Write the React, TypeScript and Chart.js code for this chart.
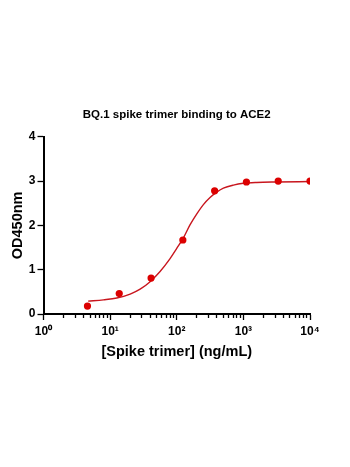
import React, { useEffect, useRef } from "react";
import { Chart, registerables } from "chart.js";

Chart.register(...registerables);

// Measured data points (3-fold dilution series)
const concentrations = [4.57, 13.7, 41.2, 123.5, 370.4, 1111, 3333, 10000];
const od450 = [0.18, 0.46, 0.81, 1.67, 2.78, 2.98, 3.0, 3.0];

// Fitted curve
const fitX = [4.68, 7.94, 12.6, 20.0, 28.2, 39.8, 56.2, 79.4, 100, 126, 158, 200, 251, 316, 398, 501, 708, 1000, 1585, 3162, 10000];
const fitY = [0.29, 0.32, 0.36, 0.45, 0.56, 0.73, 0.96, 1.25, 1.48, 1.72, 2.01, 2.26, 2.47, 2.63, 2.75, 2.84, 2.91, 2.95, 2.97, 2.98, 2.99];

// Axis ticks
const xDecades = [1, 10, 100, 1000, 10000];
const xTickLabels = ["10\u2070", "10\u00b9", "10\u00b2", "10\u00b3", "10\u2074"];
const xMinorMultipliers = [2, 3, 4, 5, 6, 7, 8, 9];
const yTickValues = [0, 1, 2, 3, 4];

const titleText = "BQ.1 spike trimer binding to ACE2";
const xTitle = "[Spike trimer] (ng/mL)";
const yTitle = "OD450nm";

const FONT = "'Liberation Sans', Arial, Helvetica, sans-serif";

export default function App() {
  const ref = useRef<HTMLCanvasElement | null>(null);

  useEffect(() => {
    if (!ref.current) return;
    const allXTicks: number[] = [];
    xDecades.forEach((d, i) => {
      allXTicks.push(d);
      if (i < xDecades.length - 1) xMinorMultipliers.forEach((m) => allXTicks.push(d * m));
    });

    const chart = new Chart(ref.current, {
      type: "scatter",
      data: {
        datasets: [
          {
            label: "fit",
            data: fitX.map((x, i) => ({ x, y: fitY[i] })),
            showLine: true,
            borderColor: "#c8161e",
            borderWidth: 1.4,
            pointRadius: 0,
            cubicInterpolationMode: "monotone",
            order: 2,
          },
          {
            label: "data",
            data: concentrations.map((x, i) => ({ x, y: od450[i] })),
            showLine: false,
            backgroundColor: "#dc0000",
            borderColor: "#dc0000",
            pointRadius: 3.6,
            pointBorderWidth: 0,
            order: 1,
          },
        ],
      },
      options: {
        responsive: false,
        animation: false,
        devicePixelRatio: 1,
        layout: { padding: { left: 0, top: 100, right: 40, bottom: 106 } },
        plugins: {
          legend: { display: false },
          tooltip: { enabled: false },
          title: {
            display: true,
            text: titleText,
            fullSize: false,
            color: "#000",
            font: { family: FONT, size: 11.5, weight: "bold" },
            padding: { top: 8, bottom: 15 },
          },
        },
        scales: {
          x: {
            type: "logarithmic",
            min: 1,
            max: 10000,
            afterBuildTicks: (scale: any) => {
              scale.ticks = allXTicks.map((v) => ({ value: v, major: xDecades.includes(v) }));
            },
            afterFit: (scale: any) => {
              scale.height = 47;
            },
            border: { display: true, color: "#000", width: 2 },
            grid: {
              display: true,
              drawOnChartArea: false,
              drawTicks: true,
              tickLength: 6,
              tickColor: "#000",
              tickWidth: 1.3,
              tickBorderDash: (ctx: any) =>
                ctx.tick && xDecades.includes(ctx.tick.value) ? [] : [3, 30],
            },
            ticks: {
              autoSkip: false,
              maxRotation: 0,
              minRotation: 0,
              padding: 4,
              color: "#000",
              font: { family: FONT, size: 12, weight: "bold" },
              callback: (value: any) => {
                const idx = xDecades.indexOf(Number(value));
                return idx >= 0 ? xTickLabels[idx] : "";
              },
            },
            title: {
              display: true,
              text: xTitle,
              color: "#000",
              font: { family: FONT, size: 14.5, weight: "bold" },
              padding: { top: 0, bottom: 0 },
            },
          },
          y: {
            type: "linear",
            min: 0,
            max: 4,
            afterBuildTicks: (scale: any) => {
              scale.ticks = yTickValues.map((v) => ({ value: v }));
            },
            afterFit: (scale: any) => {
              scale.width = 43.5;
            },
            border: { display: true, color: "#000", width: 2 },
            grid: {
              display: true,
              drawOnChartArea: false,
              drawTicks: true,
              tickLength: 6,
              tickColor: "#000",
              tickWidth: 1.3,
            },
            ticks: {
              padding: 2,
              color: "#000",
              font: { family: FONT, size: 12, weight: "bold" },
            },
            title: {
              display: true,
              text: yTitle,
              color: "#000",
              font: { family: FONT, size: 14.5, weight: "bold" },
              padding: { top: 9, bottom: 0 },
            },
          },
        },
      },
    } as any);
    return () => chart.destroy();
  }, []);

  return (
    <div style={{ position: "fixed", left: 0, top: 0, width: 350, height: 467, background: "#fff" }}>
      <canvas ref={ref} width={350} height={467} style={{ width: 350, height: 467, display: "block" }} />
    </div>
  );
}
